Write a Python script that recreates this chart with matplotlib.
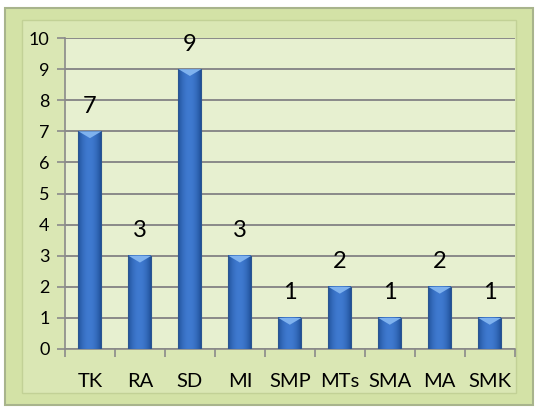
import numpy as np
import matplotlib
matplotlib.use("Agg")
from matplotlib import pyplot as plt
from matplotlib.patches import Rectangle

plt.rcParams['font.family'] = ['Lato', 'DejaVu Sans']

categories = ["TK", "RA", "SD", "MI", "SMP", "MTs", "SMA", "MA", "SMK"]
values = [7, 3, 9, 3, 1, 2, 1, 2, 1]

fig = plt.figure(figsize=(5.38, 4.09), dpi=100)
fig.patch.set_facecolor("white")

# outer chart frame
fig.patches.append(Rectangle((0.01, 0.01), 0.98, 0.97, transform=fig.transFigure,
                             facecolor="#d3e2a6", edgecolor="#a8b48c", linewidth=1.5, zorder=-2))
fig.patches.append(Rectangle((0.04, 0.04), 0.92, 0.91, transform=fig.transFigure,
                             facecolor="#dae7b4", edgecolor="#c2d196", linewidth=1, zorder=-1))

ax = fig.add_axes([0.1208, 0.1467, 0.836, 0.7603])
ax.set_facecolor("#e7f0d0")

x = np.arange(len(categories))
width = 0.46

# bars with a horizontal shading gradient
grad = np.linspace(0, 1, 64)
shade = np.sin(grad * np.pi) ** 0.8
cmap = matplotlib.colors.LinearSegmentedColormap.from_list("b", ["#1f4f97", "#3f7ad0"])
for xi, v in zip(x, values):
    ax.imshow(shade[np.newaxis, :], extent=(xi - width / 2, xi + width / 2, 0, v),
              cmap=cmap, aspect="auto", zorder=3, interpolation="bilinear")
    ax.add_patch(Rectangle((xi - width / 2, 0), width, v, facecolor="none",
                           edgecolor="#2a5590", linewidth=0.8, zorder=4))
    # top cap
    ax.fill([xi - width / 2, xi + width / 2, xi], [v, v, v - 0.22],
            color="#7fb2ee", zorder=5, linewidth=0)
    ax.annotate(str(v), (xi, v), xytext=(0, 18), textcoords="offset points",
                ha="center", va="center", fontsize=17, color="black", zorder=6)

ax.set_xlim(-0.5, len(categories) - 0.5)
ax.set_ylim(0, 10)
ax.set_yticks(range(0, 11))
ax.yaxis.grid(True, color="#8a8a8a", linewidth=1.4, zorder=1)
ax.set_axisbelow(True)

ax.set_xticks(x)
ax.set_xticklabels(categories, fontsize=14.5)
ax.set_xticks(np.arange(-0.5, len(categories)), minor=True)
ax.tick_params(axis="x", which="major", length=0, pad=17)
ax.tick_params(axis="x", which="minor", length=6, color="#8a8a8a", width=1.2)
ax.tick_params(axis="y", length=6, color="#8a8a8a", width=1.2, labelsize=13, pad=5)

for side in ["top", "right"]:
    ax.spines[side].set_visible(False)
ax.spines["left"].set_color("#8a8a8a")
ax.spines["bottom"].set_color("#8a8a8a")
ax.spines["left"].set_linewidth(1.2)
ax.spines["bottom"].set_linewidth(1.2)

plt.savefig("out.png", dpi=100, facecolor=fig.get_facecolor())
